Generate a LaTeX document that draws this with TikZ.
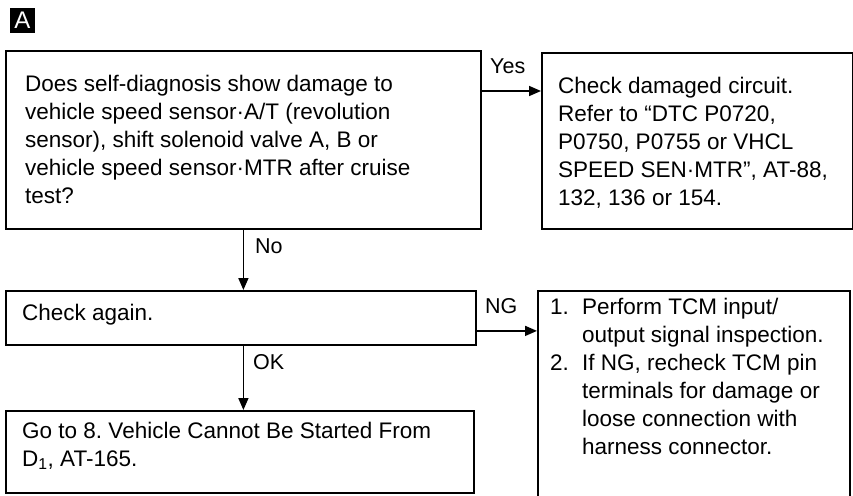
\documentclass[tikz,border=0pt]{standalone}
\usepackage{fontspec}
\setmainfont{Liberation Sans}
\usetikzlibrary{arrows.meta,calc}
\newcommand\bodyfs{\fontsize{22.5}{28}\selectfont\frenchspacing}
\newcommand\labfs{\fontsize{21.5}{26}\selectfont}
\begin{document}
\begin{tikzpicture}[x=1pt,y=-1pt,
  boxed/.style={draw, line width=1.8pt, inner sep=0pt, anchor=north west},
  txt/.style={anchor=north west, inner sep=0pt, align=left, font=\bodyfs},
  lbl/.style={anchor=base west, inner sep=0pt, font=\labfs},
  arr/.style={line width=1.6pt, -{Triangle[length=12pt,width=10pt]}}]
\useasboundingbox (0,0) rectangle (853,495);
\fill[white] (0,0) rectangle (853,495);
\clip (0,0) rectangle (853,495);
% label A
\node[fill=black, text=white, minimum width=25pt, minimum height=25pt, inner sep=0pt, font=\fontsize{24}{28}\selectfont] (lab) at (22.5,20.5) {A};
% boxes
\node[boxed, minimum width=475pt, minimum height=178pt] (q) at (5,50) {};
\node[boxed, minimum width=311pt, minimum height=176pt] (r) at (541,52) {};
\node[boxed, minimum width=470pt, minimum height=54pt] (c) at (5,290) {};
\node[boxed, minimum width=468pt, minimum height=82pt] (g) at (5,410) {};
\node[boxed, minimum width=312pt, minimum height=230pt] (t) at (537,290) {};
% texts
\node[txt] (qt) at (25,72) {\strut Does self-diagnosis show damage to\\
vehicle speed sensor·A/T (revolution\\
sensor), shift solenoid valve A, B or\\
vehicle speed sensor·MTR after cruise\\
test?};
\node[txt] (rt) at (558,73.4) {\strut Check damaged circuit.\\
Refer to “DTC P0720,\\
P0750, P0755 or VHCL\\
SPEED SEN·MTR”, AT-88,\\
132, 136 or 154.};
\node[txt] (ct) at (22,300.4) {\strut Check again.};
\node[txt] (gt) at (22,418.4) {\strut Go to 8. Vehicle Cannot Be Started From\\
D\textsubscript{1}, AT-165.};
\node[txt] (tt) at (550,294.5) {\strut\makebox[32pt][l]{1.}Perform TCM input/\\
\hspace*{32pt}output signal inspection.\\
\makebox[32pt][l]{2.}If NG, recheck TCM pin\\
\hspace*{32pt}terminals for damage or\\
\hspace*{32pt}loose connection with\\
\hspace*{32pt}harness connector.};
% connectors
\draw[arr] ([yshift=-41pt]q.north east) -- ([yshift=-41pt]q.north east -| r.west);
\draw[arr] (q.south) -- (c.north -| q.south);
\draw[arr] (c.south -| q.south) -- (g.north -| q.south);
\draw[arr] ([yshift=-13pt]c.east) -- ([yshift=-13pt]c.east -| t.west);
% connector labels
\node[lbl] (yes) at (490,73) {Yes};
\node[lbl] (no) at (255,253) {No};
\node[lbl] (ok) at (253,369) {OK};
\node[lbl] (ng) at (485,313) {NG};
\end{tikzpicture}
\end{document}
